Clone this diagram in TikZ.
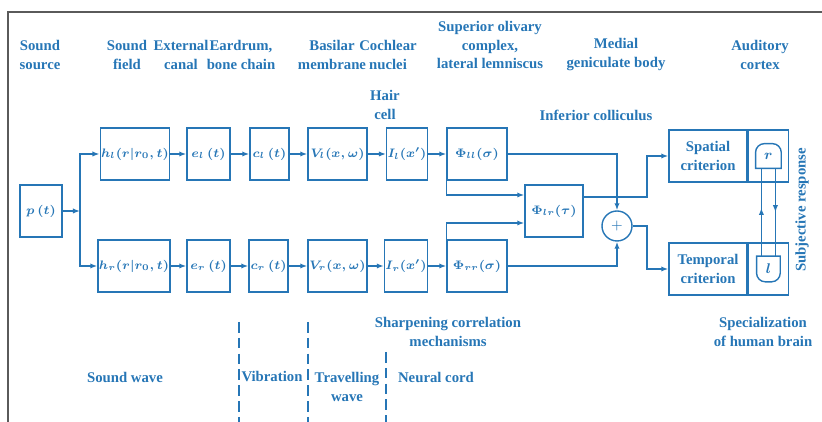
\documentclass[tikz,border=0pt]{standalone}
\usepackage{fontspec}
\setmainfont{Liberation Serif}
\usepackage{tikz}
\usetikzlibrary{arrows.meta,calc,decorations.markings,positioning}
\definecolor{auditory}{RGB}{38,118,182}
\definecolor{framegray}{RGB}{90,90,90}

\begin{document}
\begin{tikzpicture}[
  font=\fontsize{8.4}{10.8}\selectfont\bfseries,
  every node/.style={text=auditory},
  blk/.style={draw=auditory, line width=0.8pt, minimum height=1.04cm, inner sep=0.5pt, font=\fontsize{7}{9}\selectfont\boldmath},
  tag/.style={align=center},
  link/.style={draw=auditory, line width=0.8pt},
  arr/.style={link, -{Latex[length=4pt,width=3pt]}},
  stage/.style={draw=auditory, line width=0.8pt, dash pattern=on 6pt off 3pt},
  midarr/.style={link, decoration={markings, mark=at position #1 with {\arrow{Latex[length=4pt,width=3pt]}}}, postaction={decorate}}
]
\useasboundingbox (0,0) rectangle (16.44,8.44);
\draw[framegray, line width=0.8pt] (0.16,0) -- (0.16,8.20) -- (16.44,8.20);

% labels above
\node[tag] (srcL) at (0.80,7.34) {Sound\\source};
\node[tag] (fieldL) at (2.54,7.34) {Sound\\field};
\node[tag] (canalL) at (3.62,7.34) {External\\canal};
\node[tag] (drumL) at (4.82,7.34) {Eardrum,\\bone chain};
\node[tag] (basL) at (6.64,7.34) {Basilar\\membrane};
\node[tag] (nucL) at (7.76,7.34) {Cochlear\\nuclei};
\node[tag] (olivL) at (9.80,7.54) {Superior olivary\\complex,\\lateral lemniscus};
\node[tag] (genL) at (12.32,7.34) {Medial\\geniculate body};
\node[tag] (cortL) at (15.20,7.34) {Auditory\\cortex};
\node[tag] (hairL) at (7.70,6.34) {Hair\\cell};
\node[tag] (collL) at (11.92,6.14) {Inferior colliculus};

% source and two ear chains
\node[blk, minimum width=0.84cm] (pt) at (0.82,4.22) {$p\,(t)$};
\coordinate (split) at (1.60,4.22);
\node[blk, minimum width=1.32cm] (hl) at (2.70,5.36) {$h_l(r|r_0,t)$};
\node[blk, minimum width=0.86cm] (el) at (4.17,5.36) {$e_l\,(t)$};
\node[blk, minimum width=0.78cm] (cl) at (5.39,5.36) {$c_l\,(t)$};
\node[blk, minimum width=1.18cm] (vl) at (6.75,5.36) {$V_l(x,\omega)$};
\node[blk, minimum width=0.80cm] (il) at (8.14,5.36) {$I_l(x')$};
\node[blk, minimum width=1.20cm] (phill) at (9.54,5.36) {$\Phi_{ll}(\sigma)$};
\node[blk, minimum width=1.32cm] (hr) at (2.68,3.12) {$h_r(r|r_0,t)$};
\node[blk, minimum width=0.86cm] (er) at (4.17,3.12) {$e_r\,(t)$};
\node[blk, minimum width=0.78cm] (cr) at (5.37,3.12) {$c_r\,(t)$};
\node[blk, minimum width=1.18cm] (vr) at (6.75,3.12) {$V_r(x,\omega)$};
\node[blk, minimum width=0.84cm] (ir) at (8.12,3.12) {$I_r(x')$};
\node[blk, minimum width=1.20cm] (phirr) at (9.54,3.12) {$\Phi_{rr}(\sigma)$};

\node[blk, minimum width=1.16cm] (philr) at (11.08,4.22) {$\Phi_{lr}(\tau)$};
\node[draw=auditory, line width=0.8pt, circle, minimum size=0.60cm, inner sep=0pt] (sum) at (12.34,3.92) {$+$};
\coordinate (bend) at (12.94,0);

% cortex
\node[blk, minimum width=1.56cm, align=center, font=\fontsize{8.4}{10.8}\selectfont\bfseries] (spat) at (14.16,5.32) {Spatial\\criterion};
\node[blk, minimum width=0.80cm, right=0cm of spat] (spatR) {};
\node[blk, minimum width=1.56cm, align=center, font=\fontsize{8.4}{10.8}\selectfont\bfseries] (temp) at (14.16,3.06) {Temporal\\criterion};
\node[blk, minimum width=0.80cm, right=0cm of temp] (tempR) {};
\node[minimum width=0.50cm, minimum height=0.48cm, inner sep=0pt, font=\footnotesize\boldmath] (rr) at (spatR) {$r$};
\node[minimum width=0.46cm, minimum height=0.50cm, inner sep=0pt, font=\footnotesize\boldmath] (ll) at (tempR) {$l$};
\draw[link] (rr.south west) -- ([yshift=-5pt]rr.north west) arc[start angle=180, end angle=90, radius=5pt]
  -- ([xshift=-5pt]rr.north east) arc[start angle=90, end angle=0, radius=5pt] -- (rr.south east) -- cycle;
\draw[link] (ll.north west) -- ([yshift=5pt]ll.south west) arc[start angle=180, end angle=270, radius=5pt]
  -- ([xshift=-5pt]ll.south east) arc[start angle=270, end angle=360, radius=5pt] -- (ll.north east) -- cycle;
\node[rotate=90] (subj) at (16.04,4.24) {Subjective response};

% connections
\draw[arr] (pt) -- (split);
\draw[arr] (split) |- (hl);
\draw[arr] (split) |- (hr);
\foreach \a/\b in {hl/el,el/cl,cl/vl,vl/il,il/phill,hr/er,er/cr,cr/vr,vr/ir,ir/phirr}
  \draw[arr] (\a) -- (\b);
\draw[arr] (phill.west) |- ([yshift=0.32cm]philr.west);
\draw[arr] (phirr.west) |- ([yshift=-0.24cm]philr.west);
\draw[arr] (phill) -| (sum);
\draw[arr] (phirr) -| (sum);
\draw[arr] ([yshift=0.28cm]philr.east) -- ([yshift=0.28cm]philr.east -| bend) |- (spat);
\draw[arr] (sum) -- (sum -| bend) |- (temp);
\draw[midarr=0.55] ([xshift=-0.14cm]ll.north) -- ([xshift=-0.14cm]ll.north |- rr.south);
\draw[midarr=0.5] ([xshift=0.14cm]rr.south) -- ([xshift=0.14cm]rr.south |- ll.north);

% labels below
\node[tag] (sharpL) at (8.96,1.80) {Sharpening correlation\\mechanisms};
\node[tag] (specL) at (15.26,1.80) {Specialization\\of human brain};
\node[tag] (waveL) at (2.50,0.90) {Sound wave};
\node[tag] (vibL) at (5.44,0.90) {Vibration};
\node[tag] (travL) at (6.94,0.70) {Travelling\\wave};
\node[tag] (cordL) at (8.72,0.90) {Neural cord};
\foreach \x/\y in {4.78/2.00,6.16/2.00,7.72/1.40}
  \draw[stage] (\x,\y) -- (\x,0);
\end{tikzpicture}
\end{document}
